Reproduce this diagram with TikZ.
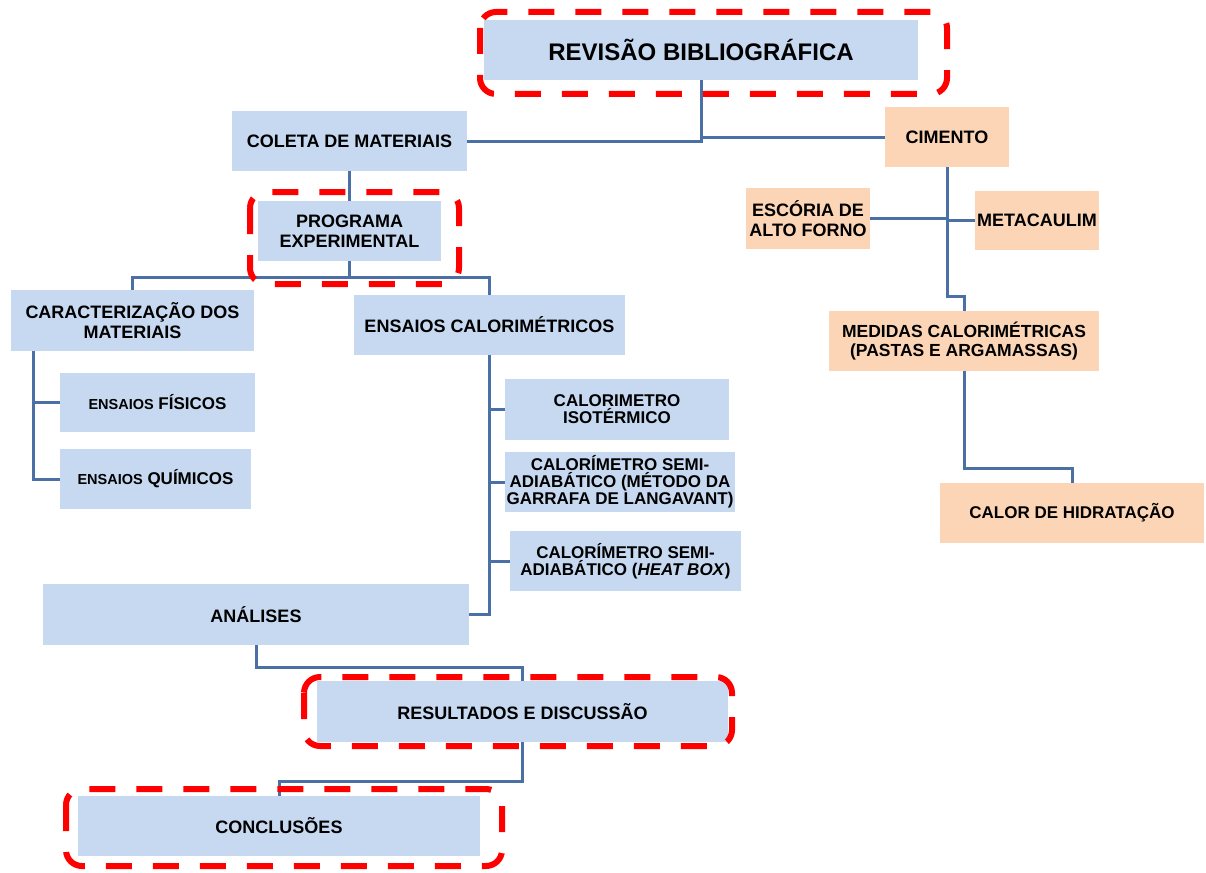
\documentclass[tikz,border=0pt]{standalone}
\usepackage{fontspec}
\setmainfont{Liberation Sans}
\definecolor{boxblue}{RGB}{198,217,240}
\definecolor{boxorange}{RGB}{251,213,181}
\definecolor{linkblue}{RGB}{74,112,166}
\definecolor{hlred}{RGB}{255,0,0}
\tikzset{
  boxb/.style={fill=boxblue, inner sep=0pt, align=center, font=\bfseries\fontsize{18}{19.5}\selectfont},
  boxo/.style={boxb, fill=boxorange},
  calo/.style={font=\bfseries\fontsize{17}{17}\selectfont},
  conn/.style={draw=linkblue, line width=3pt},
  hl/.style={draw=hlred, line width=6pt, dash pattern=on 26pt off 21pt, rounded corners=16pt},
}
\begin{document}
\begin{tikzpicture}[x=1pt,y=-1pt]
\useasboundingbox (0,0) rectangle (1206,872);
% boxes
\node[boxb, minimum width=434pt, minimum height=60pt, font=\bfseries\fontsize{24}{26}\selectfont] (rev) at (701,50) {REVISÃO BIBLIOGRÁFICA};
\node[boxb, minimum width=235pt, minimum height=60pt] (col) at (349.5,141) {COLETA DE MATERIAIS};
\node[boxo, minimum width=124pt, minimum height=60pt] (cim) at (947,137) {CIMENTO};
\node[boxb, minimum width=183pt, minimum height=60pt] (prog) at (349.5,231) {PROGRAMA\\EXPERIMENTAL};
\node[boxo, minimum width=124pt, minimum height=61pt] (esc) at (808,218.5) {ESCÓRIA DE\\ALTO FORNO};
\node[boxo, minimum width=124pt, minimum height=59pt] (meta) at (1037,220.5) {METACAULIM};
\node[boxb, minimum width=243pt, minimum height=61pt] (car) at (132.5,320.5) {CARACTERIZAÇÃO DOS\\MATERIAIS};
\node[boxb, minimum width=271pt, minimum height=60pt] (ecal) at (489.5,325) {ENSAIOS CALORIMÉTRICOS};
\node[boxb, minimum width=195pt, minimum height=59pt, font=\bfseries\fontsize{17}{19}\selectfont] (fis) at (157.5,402.5) {{\fontsize{14.5}{16}\selectfont ENSAIOS} FÍSICOS};
\node[boxb, minimum width=191pt, minimum height=60pt, font=\bfseries\fontsize{17}{19}\selectfont] (qui) at (155.5,479) {{\fontsize{14.5}{16}\selectfont ENSAIOS} QUÍMICOS};
\node[boxb, calo, minimum width=224pt, minimum height=61pt] (iso) at (617,409.5) {CALORIMETRO\\ISOTÉRMICO};
\node[boxb, calo, minimum width=230pt, minimum height=60pt] (lang) at (620,482) {CALORÍMETRO SEMI-\\ADIABÁTICO (MÉTODO DA\\GARRAFA DE LANGAVANT)};
\node[boxb, calo, minimum width=231pt, minimum height=60pt] (heat) at (625.5,561) {CALORÍMETRO SEMI-\\ADIABÁTICO (\textit{HEAT BOX})};
\node[boxo, minimum width=270pt, minimum height=60pt, font=\bfseries\fontsize{17.5}{18.5}\selectfont] (med) at (964,341) {MEDIDAS CALORIMÉTRICAS\\(PASTAS E ARGAMASSAS)};
\node[boxo, minimum width=264pt, minimum height=60pt, font=\bfseries\fontsize{17}{19}\selectfont] (calor) at (1072,513) {CALOR DE HIDRATAÇÃO};
\node[boxb, minimum width=426pt, minimum height=61pt] (ana) at (256,614.5) {ANÁLISES};
\node[boxb, minimum width=411pt, minimum height=61pt] (res) at (522.5,711.5) {RESULTADOS E DISCUSSÃO};
\node[boxb, minimum width=402pt, minimum height=60pt] (conc) at (279,826) {CONCLUSÕES};
% connectors
\draw[conn] (rev.south) |- (col.east);
\draw[conn] (rev.south |- cim.west) -- (cim.west);
\draw[conn] (col.south) -- (prog.north);
\coordinate (pj) at (349.5,277);
\draw[conn] (prog.south) -- (pj);
\draw[conn] (car.north) |- (pj);
\draw[conn] (ecal.north) |- (pj);
\coordinate (cj) at (33,351);
\draw[conn] (fis.west) -| (cj);
\draw[conn] (qui.west) -| (cj);
\draw[conn] (iso.west) -| (ecal.south);
\draw[conn] (lang.west) -| (ecal.south);
\draw[conn] (heat.west) -| (ecal.south);
\draw[conn] (ana.east) -| (ecal.south);
\draw[conn] (cim.south) -- (cim.south |- 0,296) -| (med.north);
\draw[conn] (esc.east) -- (esc.east -| cim.south);
\draw[conn] (meta.west) -- (meta.west -| cim.south);
\draw[conn] (med.south) -- (med.south |- 0,468) -| (calor.north);
\draw[conn] (ana.south) -- (ana.south |- 0,667) -| (res.north);
\draw[conn] (res.south) -- (res.south |- 0,781) -| (conc.north);
% highlight frames
\draw[hl] (480,12) rectangle (947,94);
\draw[hl] (250,192) rectangle (459,284);
\draw[hl] (304,677) rectangle (732,746);
\draw[hl] (66,789) rectangle (502,866);
\end{tikzpicture}
\end{document}
